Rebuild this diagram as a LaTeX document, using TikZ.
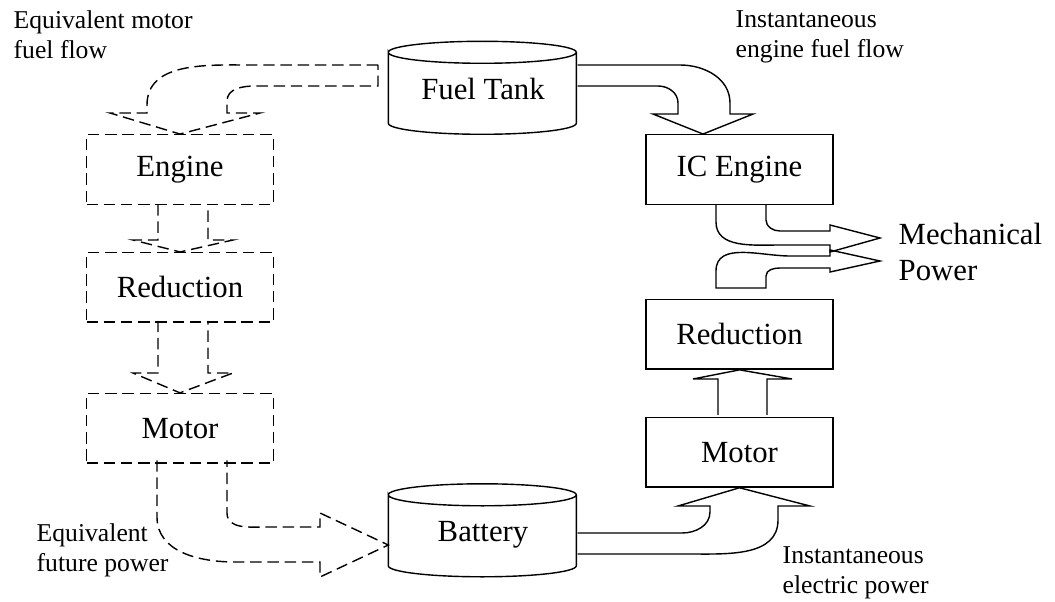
\documentclass[tikz,border=0pt]{standalone}
\usepackage{fontspec}
\setmainfont{Liberation Serif}
\usetikzlibrary{positioning,calc}

\begin{document}
\begin{tikzpicture}[
    line width=0.8pt,
    node distance=9.4mm,
    every node/.style={font=\fontsize{17.5}{21}\selectfont},
    unit/.style={draw, minimum width=3.74cm, minimum height=1.39cm},
    ghost/.style={unit, dash pattern=on 6.5pt off 3.3pt},
    store/.style={inner sep=0pt, text depth=0pt, minimum width=3.76cm, minimum height=1.86cm},
    lbl/.style={anchor=north west, inner sep=0pt, align=left, font=\fontsize{14.6}{17.1}\selectfont},
    flow/.style={line join=miter},
    ghostflow/.style={dash pattern=on 6.5pt off 3.3pt}
]
\useasboundingbox (0,0) rectangle (21.1,-12.04);

% real path
\node[unit] (icEngine) at (14.79,-3.39) {IC Engine};
\node[unit, below=1.88cm of icEngine] (rRed) {Reduction};
\node[unit, below=of rRed] (rMotor) {Motor};

% equivalent path
\node[ghost] (lEngine) at (3.6,-3.39) {Engine};
\node[ghost, below=of lEngine] (lRed) {Reduction};
\node[ghost, below=1.4cm of lRed] (lMotor) {Motor};

% tanks
\node[store] (tank) at (9.66,-1.77) {Fuel Tank};
\node[store] (battery) at (9.66,-10.62) {Battery};
\draw (tank.north west) ++(0,-0.22) arc[start angle=180, end angle=-180, x radius=1.88, y radius=0.22]
    -- ++(0,-1.42) arc[start angle=180, end angle=360, x radius=1.88, y radius=0.22] -- ++(0,1.42);
\draw (battery.north west) ++(0,-0.22) arc[start angle=180, end angle=-180, x radius=1.88, y radius=0.22]
    -- ++(0,-1.42) arc[start angle=180, end angle=360, x radius=1.88, y radius=0.22] -- ++(0,1.42);

\node[lbl] (eqFuel) at (0.26,-0.19) {Equivalent motor\\fuel flow};
\node[lbl] (instFuel) at (14.7,-0.2) {Instantaneous\\engine fuel flow};
\node[lbl, font=\fontsize{17.5}{21}\selectfont] (mech) at (17.96,-4.44) {Mechanical\\Power};
\node[lbl] (eqPower) at (0.72,-10.45) {Equivalent\\future power};
\node[lbl] (instElec) at (15.64,-10.92) {Instantaneous\\electric power};

% solid flows
\draw[flow] (tank.east |- 0,-1.30) -- (13.6,-1.30) to[out=0,in=90] (14.6,-2.06) -- (14.6,-2.28) -- (15.06,-2.28)
    -- ($(icEngine.north)+(-0.73,0)$) -- (13.06,-2.28) -- (13.56,-2.28) -- (13.56,-2.06)
    to[out=90,in=0] (13.16,-1.72) -- (tank.east |- 0,-1.72);
\draw[flow] (14.32,-4.085) -- (14.32,-4.44) to[out=-90,in=180] (15.6,-4.9) -- (16.6,-4.9) -- (16.6,-5.04)
    -- (17.6,-4.76) -- (16.6,-4.5) -- (16.6,-4.62) -- (15.6,-4.62) to[out=180,in=-90] (15.32,-4.4) -- (15.32,-4.085);
\draw[flow] (14.32,-5.76) -- (14.32,-5.42) to[out=90,in=180] (15.8,-5.12) -- (16.6,-5.12) -- (16.6,-5.0)
    -- (17.6,-5.22) -- (16.6,-5.44) -- (16.6,-5.36) -- (15.6,-5.36) to[out=180,in=90] (15.32,-5.52) -- (15.32,-5.76) -- cycle;
\draw[flow] (14.36,-8.295) -- (14.36,-7.58) -- (13.86,-7.58) -- (rRed.south) -- (15.84,-7.58) -- (15.34,-7.58) -- (15.34,-8.295);
\draw[flow] (battery.east |- 0,-10.66) -- (13.64,-10.66) to[out=0,in=-90] (14.2,-10.24) -- (14.2,-10.12) -- (13.56,-10.12)
    -- (rMotor.south) -- (16.2,-10.12) -- (15.56,-10.12) -- (15.56,-10.4) to[out=-90,in=0] (13.8,-11.08) -- (battery.east |- 0,-11.08);

% dashed flows
\draw[ghostflow] (7.56,-1.30) -- (5.0,-1.30) to[out=180,in=90] (2.94,-2.1) -- (2.94,-2.26) -- (2.2,-2.26)
    -- (lEngine.north) -- (5.2,-2.26) -- (4.54,-2.26) -- (4.54,-2.02) to[out=90,in=180] (5.1,-1.72) -- (7.56,-1.72) -- cycle;
\draw[ghostflow] (3.16,-4.085) -- (3.16,-4.8) -- (2.66,-4.8) -- (lRed.north) -- (4.66,-4.8) -- (4.16,-4.8) -- (4.16,-4.085);
\draw[ghostflow] (3.16,-6.415) -- (3.16,-7.46) -- (2.66,-7.46) -- (lMotor.north) -- (4.66,-7.46) -- (4.16,-7.46) -- (4.16,-6.415);
\draw[ghostflow] (3.14,-9.205) -- (3.14,-10.34) to[out=-90,in=180] (4.7,-11.24) -- (6.4,-11.24) -- (6.4,-11.54)
    -- ($(battery.west)+(0,-0.28)$) -- (6.4,-10.26) -- (6.4,-10.54) -- (5.34,-10.54) to[out=180,in=-90] (4.54,-10.26) -- (4.54,-9.205);

\end{tikzpicture}
\end{document}
